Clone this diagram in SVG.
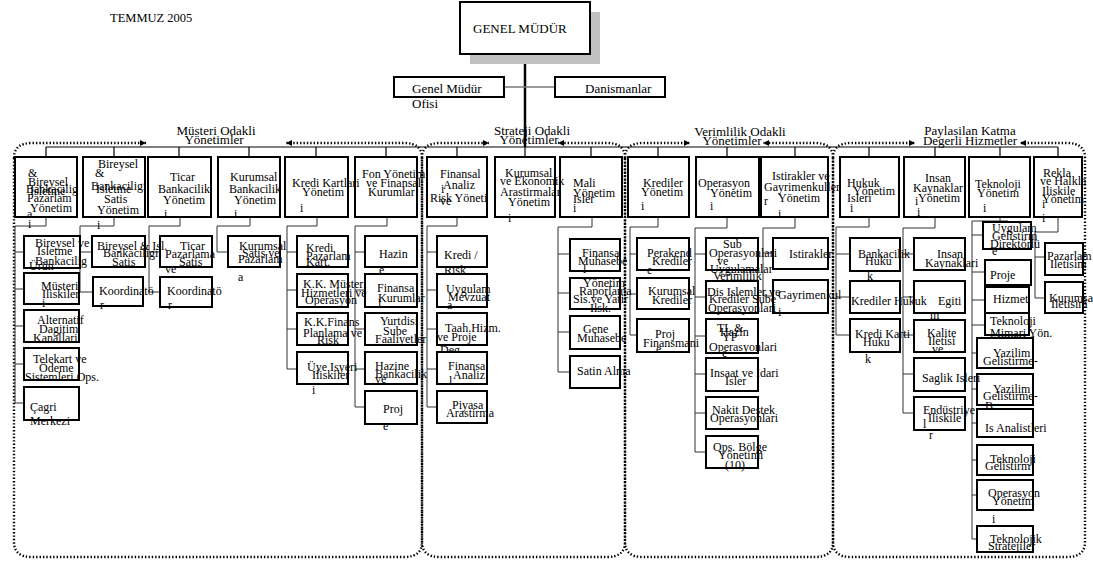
<svg xmlns="http://www.w3.org/2000/svg" width="1093" height="565" viewBox="0 0 1093 565">
<style>
.t{font-family:"Liberation Serif","Times New Roman",serif;font-size:12px;fill:#000}
.h{font-family:"Liberation Serif","Times New Roman",serif;font-size:13px;fill:#000}
.b{fill:#fff;stroke:#000;stroke-width:2}
.c{fill:none;stroke:#333;stroke-width:1}
.k{fill:none;stroke:#000;stroke-width:1.2}
.d{fill:none;stroke:#000;stroke-width:2.4;stroke-dasharray:1.4 2}
</style>
<defs>
<marker id="ah" viewBox="0 0 6 6" refX="6" refY="3" markerWidth="6" markerHeight="6" markerUnits="userSpaceOnUse" orient="auto">
<path d="M0,0 L6,3 L0,6 z" fill="#000"/>
</marker>
</defs>
<rect width="1093" height="565" fill="#fff"/>
<text class="h" x="110" y="22" style="font-size:12.5px">TEMMUZ 2005</text>

<g id="groups">
<path class="d" d="M14,158 V542 Q14,557 32,557 H404 Q422,557 422,542 V158"/>
<path class="d" d="M14,158 Q14,143 32,143 H146" marker-end="url(#ah)"/>
<path class="d" d="M422,158 Q422,143 404,143 H286" marker-end="url(#ah)"/>
<text class="h" x="216" y="135" text-anchor="middle">Müsteri Odakli</text>
<text class="h" x="214" y="144" text-anchor="middle">Yönetimler</text>
<path class="d" d="M422,158 V542 Q422,557 440,557 H607 Q625,557 625,542 V158"/>
<path class="d" d="M422,158 Q422,143 440,143 H489" marker-end="url(#ah)"/>
<path class="d" d="M625,158 Q625,143 607,143 H558" marker-end="url(#ah)"/>
<text class="h" x="532" y="135" text-anchor="middle">Strateji Odakli</text>
<text class="h" x="529" y="144" text-anchor="middle">Yönetimler</text>
<path class="d" d="M625,158 V542 Q625,557 643,557 H815 Q833,557 833,542 V158"/>
<path class="d" d="M625,158 Q625,143 643,143 H690" marker-end="url(#ah)"/>
<path class="d" d="M833,158 Q833,143 815,143 H763" marker-end="url(#ah)"/>
<text class="h" x="740" y="136" text-anchor="middle">Verimlilik Odakli</text>
<text class="h" x="732" y="145" text-anchor="middle">Yönetimler</text>
<path class="d" d="M833,158 V542 Q833,557 851,557 H1067 Q1085,557 1085,542 V158"/>
<path class="d" d="M833,158 Q833,143 851,143 H915" marker-end="url(#ah)"/>
<path class="d" d="M1085,158 Q1085,143 1067,143 H1020" marker-end="url(#ah)"/>
<text class="h" x="970" y="135" text-anchor="middle">Paylasilan Katma</text>
<text class="h" x="970" y="145" text-anchor="middle">Degerli Hizmetler</text>
</g>

<g id="connectors">
<path d="M525,54 V147" fill="none" stroke="#000" stroke-width="2.5"/>
<path d="M504,87 H555" fill="none" stroke="#777" stroke-width="1.5"/>
<path class="k" d="M46,147 H1058 M46,147 V157 M114,147 V157 M179,147 V157 M249,147 V157 M316,147 V157 M386,147 V157 M457,147 V157 M525,147 V157 M591,147 V157 M658,147 V157 M727,147 V157 M795,147 V157 M869,147 V157 M935,147 V157 M1000,147 V157 M1058,147 V157"/>
<path class="c" d="M46,217 V226 H15 V403 M15,252 H24 M15,289 H24 M15,326 H24 M15,364 H24 M15,403 H24"/>
<path class="c" d="M114,217 V226 H80 V292 M80,252 H92 M80,292 H93"/>
<path class="c" d="M180,217 V226 H149 V292 M149,252 H160 M149,292 H160"/>
<path class="c" d="M250,217 V226 H217 V252 H228"/>
<path class="c" d="M317,217 V226 H287 V369 M287,252 H297 M287,290 H297 M287,329 H297 M287,369 H297"/>
<path class="c" d="M387,217 V226 H355 V407 M355,252 H365 M355,290 H365 M355,329 H365 M355,369 H365 M355,407 H365"/>
<path class="c" d="M457,217 V226 H427 V407 M427,252 H437 M427,290 H437 M427,329 H437 M427,369 H437 M427,407 H437"/>
<path class="c" d="M592,217 V227 H558 V372 M558,254 H570 M558,293 H570 M558,332 H570 M558,372 H570"/>
<path class="c" d="M658,217 V227 H630 V335 M630,254 H637 M630,294 H637 M630,335 H637"/>
<path class="c" d="M727,217 V228 H695 V452 M695,254 H706 M695,297 H706 M695,336 H706 M695,374 H706 M695,413 H706 M695,452 H706"/>
<path class="c" d="M795,217 V228 H763 V296 M763,253 H773 M763,296 H773"/>
<path class="c" d="M869,217 V227 H836 V335 M836,254 H850 M836,297 H850 M836,335 H850"/>
<path class="c" d="M935,217 V228 H903 V413 M903,254 H914 M903,297 H914 M903,335 H914 M903,374 H914 M903,413 H914"/>
<path class="c" d="M1000,217 V221 H972 V539 M1000,221 H1008 V222 M972,235 H983 M972,272 H985 M972,300 H985 M972,325 H985 M972,353 H977 M972,389 H977 M972,423 H977 M972,460 H977 M972,495 H977 M972,539 H977"/>
<path class="c" d="M1058,217 V232 H1035 V298 M1035,257 H1045 M1035,298 H1045"/>
</g>

<g id="genel-mudur">
<rect x="470" y="12" width="130" height="52" fill="#c0c0c0"/>
<rect class="b" x="460" y="2" width="130" height="52"/>
<text class="h" x="473" y="33">GENEL MÜDÜR</text>
</g>
<g id="gm-ofisi">
<rect class="b" x="394" y="77" width="110" height="20"/>
<text class="h" x="412" y="93">Genel Müdür</text>
<text class="h" x="412" y="108">Ofisi</text>
</g>
<g id="danismanlar">
<rect class="b" x="555" y="77" width="110" height="20"/>
<text class="h" x="585" y="93">Danismanlar</text>
</g>

<g id="n16"><rect class="b" x="1034" y="157" width="48" height="60"/>
<text class="t" x="1043" y="177">Rekla</text><text class="t" x="1040" y="185">ve Halkla</text><text class="t" x="1042" y="195">Iliskile</text><text class="t" x="1042" y="203">Yönetim</text><text class="t" x="1042" y="208">i</text><text class="t" x="1042" y="222">i</text></g>
<g id="n15"><rect class="b" x="969" y="157" width="61" height="60"/>
<text class="t" x="975" y="188">Teknoloji</text><text class="t" x="977" y="197">Yönetim</text><text class="t" x="983" y="212">i</text></g>
<g id="n14"><rect class="b" x="904" y="157" width="61" height="60"/>
<text class="t" x="925" y="182">Insan</text><text class="t" x="913" y="192">Kaynaklar</text><text class="t" x="918" y="202">Yönetim</text><text class="t" x="915" y="205">i</text><text class="t" x="917" y="216">i</text></g>
<g id="n13"><rect class="b" x="840" y="157" width="59" height="60"/>
<text class="t" x="847" y="187">Hukuk</text><text class="t" x="853" y="195">Yönetim</text><text class="t" x="847" y="202">Isleri</text><text class="t" x="850" y="212">i</text></g>
<g id="n12"><rect class="b" x="761" y="157" width="67" height="60"/>
<text class="t" x="772" y="180">Istirakler ve</text><text class="t" x="764" y="191">Gayrimenkuller</text><text class="t" x="778" y="202">Yönetim</text><text class="t" x="764" y="205">r</text><text class="t" x="778" y="218">i</text></g>
<g id="n11"><rect class="b" x="696" y="157" width="63" height="60"/>
<text class="t" x="698" y="187">Operasyon</text><text class="t" x="710" y="197">Yönetim</text><text class="t" x="710" y="210">i</text></g>
<g id="n10"><rect class="b" x="628" y="157" width="61" height="60"/>
<text class="t" x="643" y="187">Krediler</text><text class="t" x="641" y="196">Yönetim</text><text class="t" x="641" y="210">i</text></g>
<g id="n9"><rect class="b" x="560" y="157" width="62" height="60"/>
<text class="t" x="573" y="187">Mali</text><text class="t" x="573" y="197">Yönetim</text><text class="t" x="573" y="203">Isler</text><text class="t" x="573" y="212">i</text></g>
<g id="n8"><rect class="b" x="495" y="157" width="60" height="60"/>
<text class="t" x="505" y="177">Kurumsal</text><text class="t" x="500" y="185">ve Ekonomik</text><text class="t" x="500" y="196">Arastirmalar</text><text class="t" x="508" y="206">Yönetim</text><text class="t" x="508" y="222">i</text></g>
<g id="n7"><rect class="b" x="427" y="157" width="60" height="60"/>
<text class="t" x="440" y="178">Finansal</text><text class="t" x="443" y="189">Analiz</text><text class="t" x="441" y="193">i</text><text class="t" x="430" y="202">Risk Yöneti</text><text class="t" x="440" y="205">ve</text></g>
<g id="n6"><rect class="b" x="355" y="157" width="62" height="60"/>
<text class="t" x="362" y="178">Fon Yönetim</text><text class="t" x="366" y="187">ve Finansal</text><text class="t" x="368" y="196">Kurumlar</text></g>
<g id="n5"><rect class="b" x="285" y="157" width="63" height="60"/>
<text class="t" x="292" y="187">Kredi Kartlari</text><text class="t" x="302" y="196">Yönetim</text><text class="t" x="300" y="212">i</text></g>
<g id="n4"><rect class="b" x="218" y="157" width="62" height="60"/>
<text class="t" x="230" y="181">Kurumsal</text><text class="t" x="229" y="193">Bankacilik</text><text class="t" x="234" y="204">Yönetim</text><text class="t" x="234" y="218">i</text></g>
<g id="n3"><rect class="b" x="148" y="157" width="63" height="60"/>
<text class="t" x="170" y="181">Ticar</text><text class="t" x="158" y="193">Bankacilik</text><text class="t" x="163" y="204">Yönetim</text><text class="t" x="164" y="218">i</text></g>
<g id="n2"><rect class="b" x="83" y="157" width="62" height="60"/>
<text class="t" x="98" y="168">Bireysel</text><text class="t" x="95" y="177">&amp;</text><text class="t" x="91" y="190">Bankaciligi</text><text class="t" x="96" y="193">Isletme</text><text class="t" x="104" y="203">Satis</text><text class="t" x="97" y="214">Yönetim</text><text class="t" x="97" y="229">i</text></g>
<g id="n1"><rect class="b" x="15" y="157" width="62" height="60"/>
<text class="t" x="28" y="177">&amp;</text><text class="t" x="28" y="186">Bireysel</text><text class="t" x="26" y="193">Bankacilig</text><text class="t" x="30" y="195">Isletme</text><text class="t" x="27" y="202">Pazarlam</text><text class="t" x="30" y="212">Yönetim</text><text class="t" x="27" y="218">a</text><text class="t" x="28" y="228">i</text></g>

<g id="n16a"><rect class="b" x="1045" y="243" width="38" height="32"/><text class="t" x="1047" y="260">Pazarlam</text><text class="t" x="1050" y="268">Iletisim</text></g>
<g id="n16b"><rect class="b" x="1045" y="282" width="38" height="31"/><text class="t" x="1049" y="302">Kurumsa</text><text class="t" x="1051" y="308">Iletisim</text></g>

<g id="n15a"><rect class="b" x="983" y="222" width="48" height="27"/><text class="t" x="992" y="232">Uygulam</text><text class="t" x="992" y="240">Gelistirm</text><text class="t" x="990" y="248">Direktörlü</text><text class="t" x="992" y="255">e</text></g>
<g id="n15b"><rect class="b" x="985" y="260" width="46" height="25"/><text class="t" x="990" y="279">Proje</text></g>
<g id="n15c"><rect class="b" x="985" y="287" width="44" height="26"/><text class="t" x="993" y="303">Hizmet</text></g>
<g id="n15d"><rect class="b" x="985" y="313" width="44" height="22"/><text class="t" x="990" y="325">Teknoloji</text><text class="t" x="990" y="337">Mimari Yön.</text></g>
<g id="n15e"><rect class="b" x="977" y="338" width="56" height="30"/><text class="t" x="993" y="357">Yazilim</text><text class="t" x="983" y="365">Gelistirme-</text></g>
<g id="n15f"><rect class="b" x="977" y="374" width="56" height="31"/><text class="t" x="993" y="393">Yazilim</text><text class="t" x="983" y="400">Gelistirme-</text><text class="t" x="985" y="410">B</text></g>
<g id="n15g"><rect class="b" x="977" y="409" width="56" height="28"/><text class="t" x="985" y="432">Is Analistleri</text></g>
<g id="n15h"><rect class="b" x="977" y="445" width="56" height="30"/><text class="t" x="990" y="463">Teknoloji</text><text class="t" x="985" y="470">Gelistirm</text></g>
<g id="n15i"><rect class="b" x="977" y="480" width="56" height="30"/><text class="t" x="988" y="497">Operasyon</text><text class="t" x="992" y="505">Yönetim</text><text class="t" x="992" y="523">i</text></g>
<g id="n15j"><rect class="b" x="977" y="526" width="56" height="26"/><text class="t" x="990" y="543">Teknolojik</text><text class="t" x="988" y="550">Stratejiler</text></g>

<g id="n14a"><rect class="b" x="914" y="238" width="51" height="32"/><text class="t" x="937" y="258">Insan</text><text class="t" x="925" y="267">Kaynaklari</text></g>
<g id="n14b"><rect class="b" x="914" y="281" width="51" height="32"/><text class="t" x="938" y="305">Egiti</text><text class="t" x="930" y="319">m</text></g>
<g id="n14c"><rect class="b" x="914" y="320" width="51" height="32"/><text class="t" x="927" y="337">Kalite</text><text class="t" x="928" y="345">Iletisi</text><text class="t" x="932" y="353">ve</text><text class="t" x="932" y="363">m</text></g>
<g id="n14d"><rect class="b" x="914" y="358" width="51" height="33"/><text class="t" x="922" y="382">Saglik Isleri</text></g>
<g id="n14e"><rect class="b" x="914" y="397" width="51" height="33"/><text class="t" x="923" y="414">Endüstriye</text><text class="t" x="928" y="422">Iliskile</text><text class="t" x="923" y="428">l</text><text class="t" x="929" y="439">r</text></g>

<g id="n13a"><rect class="b" x="850" y="238" width="50" height="33"/><text class="t" x="858" y="258">Bankacilik</text><text class="t" x="865" y="265">Huku</text><text class="t" x="867" y="280">k</text></g>
<g id="n13b"><rect class="b" x="850" y="281" width="50" height="32"/><text class="t" x="851" y="305">Krediler Hukuk</text></g>
<g id="n13c"><rect class="b" x="850" y="319" width="50" height="33"/><text class="t" x="855" y="338">Kredi Karti</text><text class="t" x="863" y="346">Huku</text><text class="t" x="865" y="363">k</text></g>

<g id="n12a"><rect class="b" x="773" y="238" width="55" height="31"/><text class="t" x="789" y="258">Istirakler</text></g>
<g id="n12b"><rect class="b" x="773" y="280" width="55" height="33"/><text class="t" x="778" y="299">Gayrimenkul</text><text class="t" x="778" y="316">i</text></g>

<g id="n11a"><rect class="b" x="706" y="238" width="52" height="32"/><text class="t" x="723" y="248">Sub</text><text class="t" x="709" y="257">Operasyonlari</text><text class="t" x="717" y="265">ve</text><text class="t" x="710" y="273">Uygulamalar</text><text class="t" x="713" y="280">Verimlilik</text></g>
<g id="n11b"><rect class="b" x="706" y="281" width="52" height="32"/><text class="t" x="707" y="296">Dis Islemler ve</text><text class="t" x="709" y="303">Krediler Sube</text><text class="t" x="708" y="312">Operasyonlari</text></g>
<g id="n11c"><rect class="b" x="706" y="319" width="52" height="34"/><text class="t" x="717" y="332">TL  &amp;</text><text class="t" x="720" y="336">Hazin</text><text class="t" x="722" y="341">YP</text><text class="t" x="709" y="351">Operasyonlari</text><text class="t" x="722" y="357">e</text></g>
<g id="n11d"><rect class="b" x="706" y="358" width="52" height="33"/><text class="t" x="710" y="377">Insaat ve Idari</text><text class="t" x="725" y="385">Isler</text></g>
<g id="n11e"><rect class="b" x="706" y="397" width="52" height="32"/><text class="t" x="712" y="414">Nakit Destek</text><text class="t" x="710" y="422">Operasyonlari</text></g>
<g id="n11f"><rect class="b" x="706" y="436" width="52" height="32"/><text class="t" x="713" y="451">Ops. Bölge</text><text class="t" x="718" y="459">Yönetimi</text><text class="t" x="725" y="469">(10)</text></g>

<g id="n10a"><rect class="b" x="637" y="238" width="52" height="32"/><text class="t" x="647" y="257">Perakend</text><text class="t" x="652" y="265">Krediler</text><text class="t" x="647" y="274">e</text></g>
<g id="n10b"><rect class="b" x="637" y="278" width="52" height="31"/><text class="t" x="648" y="295">Kurumsal</text><text class="t" x="652" y="304">Krediler</text></g>
<g id="n10c"><rect class="b" x="637" y="319" width="52" height="33"/><text class="t" x="655" y="338">Proj</text><text class="t" x="643" y="347">Finansmani</text><text class="t" x="656" y="353">e</text></g>

<g id="n9a"><rect class="b" x="570" y="239" width="50" height="32"/><text class="t" x="582" y="257">Finansa</text><text class="t" x="578" y="265">Muhasebe</text><text class="t" x="583" y="273">l</text></g>
<g id="n9b"><rect class="b" x="570" y="278" width="50" height="31"/><text class="t" x="583" y="287">Yönetim</text><text class="t" x="579" y="295">Raporlama</text><text class="t" x="573" y="303">Sis.ve Yatir</text><text class="t" x="590" y="312">Ilsk.</text></g>
<g id="n9c"><rect class="b" x="570" y="316" width="50" height="33"/><text class="t" x="583" y="333">Gene</text><text class="t" x="577" y="342">Muhasebe</text></g>
<g id="n9d"><rect class="b" x="570" y="356" width="50" height="32"/><text class="t" x="577" y="375">Satin Alma</text></g>

<g id="n7a"><rect class="b" x="437" y="236" width="50" height="31"/><text class="t" x="444" y="259">Kredi /</text><text class="t" x="444" y="274">Risk</text></g>
<g id="n7b"><rect class="b" x="437" y="274" width="50" height="33"/><text class="t" x="446" y="293">Uygulam</text><text class="t" x="448" y="301">Mevzuat</text><text class="t" x="447" y="309">a</text></g>
<g id="n7c"><rect class="b" x="437" y="313" width="50" height="32"/><text class="t" x="445" y="332">Taah.Hizm.</text><text class="t" x="437" y="341">ve Proje</text><text class="t" x="440" y="354">Deg.</text></g>
<g id="n7d"><rect class="b" x="437" y="352" width="50" height="32"/><text class="t" x="448" y="370">Finansa</text><text class="t" x="453" y="379">Analiz</text><text class="t" x="449" y="385">l</text></g>
<g id="n7e"><rect class="b" x="437" y="391" width="50" height="32"/><text class="t" x="452" y="409">Piyasa</text><text class="t" x="446" y="417">Arastirma</text></g>

<g id="n6a"><rect class="b" x="365" y="236" width="52" height="31"/><text class="t" x="379" y="258">Hazin</text><text class="t" x="379" y="274">e</text></g>
<g id="n6b"><rect class="b" x="365" y="274" width="52" height="33"/><text class="t" x="377" y="292">Finansa</text><text class="t" x="378" y="302">Kurumlar</text><text class="t" x="378" y="308">l</text></g>
<g id="n6c"><rect class="b" x="365" y="313" width="52" height="32"/><text class="t" x="380" y="325">Yurtdisi</text><text class="t" x="383" y="335">Sube</text><text class="t" x="375" y="343">Faaliyetler</text></g>
<g id="n6d"><rect class="b" x="365" y="352" width="52" height="32"/><text class="t" x="375" y="370">Hazine</text><text class="t" x="375" y="378">Bankacilik</text><text class="t" x="375" y="383">ve</text></g>
<g id="n6e"><rect class="b" x="365" y="391" width="52" height="33"/><text class="t" x="383" y="413">Proj</text><text class="t" x="383" y="430">e</text></g>

<g id="n5a"><rect class="b" x="297" y="236" width="51" height="31"/><text class="t" x="306" y="252">Kredi</text><text class="t" x="306" y="260">Pazarlam</text><text class="t" x="306" y="266">Kart.</text></g>
<g id="n5b"><rect class="b" x="297" y="274" width="51" height="33"/><text class="t" x="303" y="288">K.K. Müsteri</text><text class="t" x="301" y="297">Hizmetleri ve</text><text class="t" x="305" y="304">Operasyon</text></g>
<g id="n5c"><rect class="b" x="297" y="313" width="51" height="32"/><text class="t" x="304" y="326">K.K.Finans</text><text class="t" x="303" y="337">Planlama ve</text><text class="t" x="317" y="344">Risk</text></g>
<g id="n5d"><rect class="b" x="297" y="352" width="51" height="32"/><text class="t" x="307" y="371">Üye Isyeri</text><text class="t" x="312" y="379">Iliskiler</text><text class="t" x="312" y="394">i</text></g>

<g id="n4a"><rect class="b" x="228" y="236" width="52" height="31"/><text class="t" x="239" y="250">Kurumsal</text><text class="t" x="242" y="257">Satis ve</text><text class="t" x="238" y="263">Pazarlam</text><text class="t" x="238" y="281">a</text></g>

<g id="n3a"><rect class="b" x="160" y="236" width="52" height="31"/><text class="t" x="180" y="250">Ticar</text><text class="t" x="165" y="258">Pazarlama</text><text class="t" x="179" y="266">Satis</text><text class="t" x="165" y="273">ve</text></g>
<g id="n3b"><rect class="b" x="160" y="277" width="52" height="30"/><text class="t" x="167" y="295">Koordinatö</text><text class="t" x="168" y="309">r</text></g>

<g id="n2a"><rect class="b" x="92" y="236" width="53" height="31"/><text class="t" x="97" y="250">Bireysel &amp; Isl.</text><text class="t" x="103" y="257">Bankaciligi</text><text class="t" x="112" y="266">Satis</text></g>
<g id="n2b"><rect class="b" x="93" y="277" width="50" height="29"/><text class="t" x="99" y="295">Koordinatö</text><text class="t" x="100" y="309">r</text></g>

<g id="n1a"><rect class="b" x="24" y="236" width="56" height="32"/><text class="t" x="35" y="247">Bireysel ve</text><text class="t" x="37" y="255">Isletme</text><text class="t" x="35" y="265">Bankacilig</text><text class="t" x="29" y="270">Ürün</text></g>
<g id="n1b"><rect class="b" x="24" y="273" width="55" height="31"/><text class="t" x="41" y="290">Müsteri</text><text class="t" x="42" y="298">Iliskiler</text><text class="t" x="42" y="307">i</text></g>
<g id="n1c"><rect class="b" x="24" y="310" width="55" height="32"/><text class="t" x="37" y="324">Alternatif</text><text class="t" x="39" y="333">Dagitim</text><text class="t" x="33" y="342">Kanallari</text></g>
<g id="n1d"><rect class="b" x="24" y="348" width="55" height="32"/><text class="t" x="33" y="363">Telekart ve</text><text class="t" x="39" y="372">Ödeme</text><text class="t" x="25" y="381">Sistemleri Ops.</text></g>
<g id="n1e"><rect class="b" x="24" y="387" width="55" height="33"/><text class="t" x="30" y="411">Çagri</text><text class="t" x="30" y="425">Merkezi</text></g>
</svg>
